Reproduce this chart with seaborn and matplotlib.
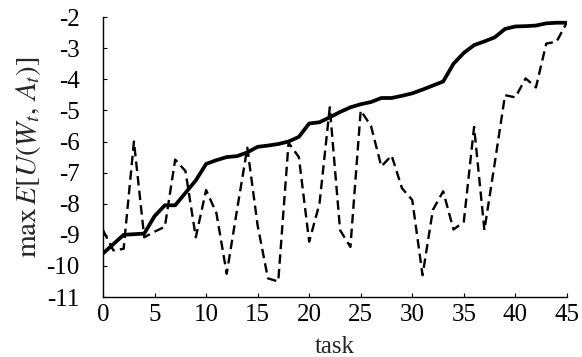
import numpy as np
import pandas as pd
import matplotlib
matplotlib.use("Agg")
import matplotlib.pyplot as plt
import seaborn as sns

tasks = list(range(46))
solid_vals = [-9.6, -9.3, -9.0, -8.98, -8.96, -8.4, -8.05, -8.05, -7.65, -7.25,
              -6.72, -6.6, -6.5, -6.47, -6.35, -6.17, -6.13, -6.08, -6.0, -5.85,
              -5.42, -5.38, -5.22, -5.05, -4.9, -4.8, -4.73, -4.6, -4.6, -4.53,
              -4.45, -4.33, -4.2, -4.07, -3.5, -3.15, -2.9, -2.78, -2.65, -2.38,
              -2.3, -2.29, -2.27, -2.2, -2.18, -2.18]
dashed_vals = [-8.85, -9.5, -9.45, -6.0, -9.08, -8.9, -8.74, -6.58, -6.95, -9.08,
               -7.56, -8.3, -10.25, -8.2, -6.2, -8.7, -10.4, -10.5, -6.04, -6.5,
               -9.22, -8.0, -4.9, -8.85, -9.39, -5.0, -5.5, -6.8, -6.45, -7.5,
               -7.88, -10.3, -8.2, -7.6, -8.83, -8.58, -5.53, -8.85, -6.7, -4.51,
               -4.58, -3.97, -4.26, -2.85, -2.79, -2.17]
xticks = [0, 5, 10, 15, 20, 25, 30, 35, 40, 45]
yticks = [-11, -10, -9, -8, -7, -6, -5, -4, -3, -2]
ytick_labels = ["-11", "-10", "-9", "-8", "-7", "-6", "-5", "-4", "-3", "-2"]

sns.set_theme(style="ticks")
plt.rcParams['font.family'] = ['Liberation Serif', 'DejaVu Serif']
plt.rcParams['mathtext.fontset'] = 'stix'

df_s = pd.DataFrame({"task": tasks, "value": solid_vals})
df_d = pd.DataFrame({"task": tasks, "value": dashed_vals})

fig = plt.figure(figsize=(5.82, 3.57), dpi=100)
ax = fig.add_axes([0.177, 0.168, 0.797, 0.784])

sns.lineplot(data=df_d, x="task", y="value", ax=ax, color="black", linewidth=1.7,
             linestyle=(0, (4, 2.2)), solid_joinstyle="round")
sns.lineplot(data=df_s, x="task", y="value", ax=ax, color="black", linewidth=2.7,
             solid_joinstyle="round", solid_capstyle="round")

ax.set_xlim(0, 45)
ax.set_ylim(-11, -2)
ax.set_xticks(xticks)
ax.set_xticklabels([str(t) for t in xticks])
ax.set_yticks(yticks)
ax.set_yticklabels(ytick_labels)
ax.tick_params(direction="in", length=3, width=0.8, labelsize=18, colors="black")
ax.tick_params(axis="y", pad=17)
ax.tick_params(axis="x", pad=5)
for s in ["top", "right"]:
    ax.spines[s].set_visible(False)
for s in ["left", "bottom"]:
    ax.spines[s].set_linewidth(1.0)
    ax.spines[s].set_color("black")
ax.set_xlabel("task", fontsize=18, labelpad=7)
ax.set_ylabel(r"$\max\, E[U(W_t,\, A_t)]$", fontsize=21, labelpad=2)

fig.savefig("out.png", dpi=100)
